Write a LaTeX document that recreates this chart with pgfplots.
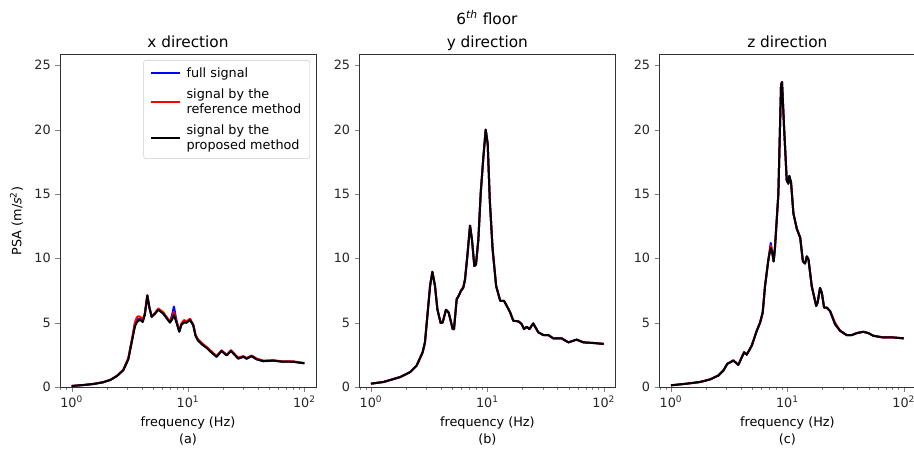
\documentclass[border=0pt]{standalone}
\usepackage{pgfplots}
\pgfplotsset{compat=1.18}
\usepackage{pgfplotstable}
\usepackage{fontspec}
\setmainfont{DejaVu Sans}

\pgfplotstableread{
f full ref prop
1.00 0.08 0.08 0.08
1.25 0.15 0.15 0.15
1.53 0.23 0.24 0.23
1.85 0.36 0.37 0.36
2.14 0.54 0.55 0.54
2.45 0.85 0.87 0.85
2.78 1.32 1.35 1.30
3.07 2.2 2.25 2.15
3.34 3.9 4.0 3.8
3.50 4.94 5.0 4.7
3.62 5.2 5.4 5.0
3.74 5.3 5.5 5.15
3.90 5.3 5.45 5.2
4.08 5.1 5.25 5.05
4.25 5.6 5.7 5.6
4.47 7.1 7.15 7.1
4.65 6.2 6.2 6.2
4.87 5.45 5.5 5.45
5.2 5.7 5.75 5.7
5.56 6.05 6.1 6.0
6.13 5.72 5.8 5.7
6.6 5.35 5.4 5.3
7.0 5.07 5.1 5.0
7.3 5.6 5.4 5.25
7.57 6.25 5.85 5.6
7.9 5.3 5.2 5.1
8.41 4.3 4.35 4.3
8.8 4.9 4.95 4.85
9.23 5.07 5.2 5.0
9.7 5.0 5.1 5.0
10.4 5.25 5.3 5.2
11.1 4.8 4.85 4.8
11.6 4.0 4.05 4.0
12.2 3.65 3.7 3.6
13.2 3.35 3.4 3.3
14.4 3.08 3.12 3.05
15.8 2.75 2.8 2.7
17.6 2.35 2.4 2.35
19.4 2.8 2.85 2.8
21.5 2.48 2.5 2.45
23.4 2.82 2.85 2.8
27 2.23 2.28 2.2
29.9 2.35 2.4 2.35
31.9 2.2 2.25 2.2
35.2 2.4 2.45 2.4
39 2.15 2.2 2.15
44.3 2.02 2.05 2.0
54 2.05 2.08 2.05
63.8 1.98 2.0 1.97
80 1.97 1.99 1.96
100 1.84 1.86 1.84
}\dataA

\pgfplotstableread{
f full ref prop
1.00 0.26 0.26 0.26
1.28 0.39 0.39 0.39
1.78 0.77 0.77 0.77
2.17 1.16 1.16 1.16
2.47 1.67 1.67 1.67
2.78 2.7 2.7 2.7
2.91 3.47 3.47 3.47
3.07 5.79 5.79 5.79
3.22 7.85 7.85 7.85
3.37 8.95 8.95 8.95
3.55 7.85 7.85 7.85
3.72 6.05 6.05 6.05
3.97 4.97 4.97 4.97
4.13 5.02 5.02 5.02
4.41 6.0 6.0 6.0
4.65 5.79 5.79 5.79
5.04 4.5 4.5 4.5
5.17 4.5 4.5 4.5
5.45 6.82 6.82 6.82
5.67 7.08 7.08 7.08
5.93 7.46 7.5 7.46
6.22 7.72 7.8 7.72
6.43 8.37 8.37 8.37
6.73 10.17 10.17 10.17
7.1 12.54 12.54 12.54
7.38 11.45 11.45 11.45
7.73 9.4 9.4 9.4
7.99 9.52 9.52 9.52
8.37 11.45 11.45 11.45
8.77 15.06 15.06 15.06
9.25 17.9 17.9 17.9
9.68 20.0 20.0 20.0
10.07 18.9 18.9 18.9
10.5 14.5 14.5 14.5
11.1 10.7 10.7 10.7
11.9 7.85 7.85 7.85
12.9 6.7 6.7 6.7
13.9 6.7 6.7 6.7
14.7 6.3 6.3 6.3
15.7 5.8 5.8 5.8
16.7 5.15 5.15 5.15
18.5 5.1 5.1 5.1
19.7 4.9 4.9 4.9
20.7 4.5 4.5 4.5
21.8 4.68 4.68 4.68
23 4.5 4.5 4.5
24.8 4.94 4.94 4.94
27.4 4.25 4.25 4.25
30.3 4.04 4.04 4.04
33.4 4.04 4.04 4.04
36.9 3.78 3.78 3.78
43.5 3.78 3.78 3.78
49.7 3.47 3.47 3.47
58.5 3.68 3.68 3.68
66.8 3.47 3.47 3.47
81.5 3.42 3.42 3.42
100 3.35 3.35 3.35
}\dataB

\pgfplotstableread{
f full ref prop
1.00 0.13 0.13 0.13
1.37 0.26 0.26 0.26
1.78 0.39 0.39 0.39
2.17 0.59 0.59 0.59
2.56 0.9 0.9 0.9
2.82 1.28 1.28 1.28
3.05 1.8 1.8 1.8
3.44 2.06 2.06 2.06
3.79 1.72 1.72 1.72
4.25 2.7 2.7 2.7
4.48 2.52 2.52 2.52
4.94 3.21 3.21 3.21
5.46 4.37 4.37 4.37
5.83 5.0 5.0 5.0
6.14 5.78 5.78 5.78
6.43 7.84 7.84 7.84
6.87 9.89 9.89 9.89
7.2 11.2 11.0 10.8
7.44 10.4 10.4 10.4
7.63 9.76 9.76 9.76
7.84 10.9 10.9 10.9
8.37 15.0 15.0 15.0
8.83 23.5 23.5 23.5
9.0 23.7 23.7 23.7
9.37 20.2 20.2 20.2
9.88 16.06 16.06 16.06
10.2 15.8 15.8 15.8
10.4 16.4 16.2 16.4
10.76 15.9 15.9 15.9
11.27 13.5 13.5 13.5
12.05 12.3 12.3 12.3
12.9 11.6 11.6 11.6
13.6 9.76 9.76 9.76
14.2 9.6 9.6 9.6
14.7 10.15 10.15 10.15
15.2 9.9 9.9 9.9
16.2 7.84 7.84 7.84
17.7 6.3 6.3 6.3
18.2 6.55 6.55 6.55
19.1 7.7 7.7 7.7
19.8 7.3 7.3 7.3
20.7 6.17 6.17 6.17
21.8 6.17 6.17 6.17
23.3 5.9 5.9 5.9
25.7 4.88 5.0 4.88
28.4 4.37 4.37 4.37
32.4 4.03 4.03 4.03
35.7 4.03 4.03 4.03
39.5 4.19 4.19 4.19
45 4.29 4.29 4.29
49.7 4.19 4.19 4.19
54.8 3.98 3.98 3.98
66.8 3.85 3.85 3.85
81.5 3.85 3.85 3.85
100 3.78 3.78 3.78
}\dataC

\begin{document}
\begin{tikzpicture}
\useasboundingbox (0,0) rectangle (685.5pt,340.5pt);
\pgfplotsset{every axis/.append style={
    scale only axis, width=192pt, height=249pt,
    anchor=south west,
    xmin=0.7943, xmax=125.89,
    ymin=0, ymax=25.8,
    xtick={1,10,100},
    xticklabels={10\textsuperscript{0},10\textsuperscript{1},10\textsuperscript{2}},
    minor xtick={0.8,0.9,2,3,4,5,6,7,8,9,20,30,40,50,60,70,80,90},
    ytick={0,5,10,15,20,25},
    tick align=outside, tick pos=left,
    major tick length=3.4pt, minor tick length=1.9pt,
    ticklabel style={font=\fontsize{9.6}{11}\selectfont, text=black!85},
    axis line style={line width=0.75pt, black!80},
    title style={font=\fontsize{11.5}{13}\selectfont, at={(axis description cs:0.5,1)}, anchor=base, yshift=-0.4pt},
    xlabel style={font=\fontsize{9.6}{12.7}\selectfont, align=center, at={(axis description cs:0.5,0)}, anchor=north, yshift=-19pt},
  }}

\begin{semilogxaxis}[at={(45pt,50.25pt)},
  /pgf/number format/assume math mode=true,
  title={x direction},
  xlabel={frequency (Hz)\\(a)},
  ylabel={PSA (m/\textit{s}\textsuperscript{2})},
  ylabel style={font=\fontsize{9.6}{11}\selectfont, at={(axis description cs:-0.17,0.5)}, anchor=center},
  legend cell align=left,
  legend style={at={(axis description cs:0.977,0.985)}, anchor=north east,
    draw=black!20, rounded corners=2pt, fill=white,
    font=\fontsize{9.6}{11}\selectfont, cells={align=left},
    row sep=3.2pt, column sep=2.5pt, inner xsep=4.5pt, inner ysep=3.5pt},
  legend image code/.code={\draw[#1] (0pt,0pt) -- (21.75pt,0pt);},
]
\addplot[blue, line width=1.5pt, line join=round] table[x=f, y=full] {\dataA};
\addplot[red, line width=1.5pt, line join=round] table[x=f, y=ref] {\dataA};
\addplot[black, line width=1.5pt, line join=round] table[x=f, y=prop] {\dataA};
\legend{full signal, {signal by the\\reference method}, {signal by the\\proposed method}}
\end{semilogxaxis}

\begin{semilogxaxis}[at={(269.5pt,50.25pt)},
  /pgf/number format/assume math mode=true,
  title={y direction},
  xlabel={frequency (Hz)\\(b)},
]
\addplot[blue, line width=1.5pt, line join=round] table[x=f, y=full] {\dataB};
\addplot[red, line width=1.5pt, line join=round] table[x=f, y=ref] {\dataB};
\addplot[black, line width=1.5pt, line join=round] table[x=f, y=prop] {\dataB};
\end{semilogxaxis}

\begin{semilogxaxis}[at={(494.5pt,50.25pt)},
  /pgf/number format/assume math mode=true,
  title={z direction},
  xlabel={frequency (Hz)\\(c)},
]
\addplot[blue, line width=1.5pt, line join=round] table[x=f, y=full] {\dataC};
\addplot[red, line width=1.5pt, line join=round] table[x=f, y=ref] {\dataC};
\addplot[black, line width=1.5pt, line join=round] table[x=f, y=prop] {\dataC};
\end{semilogxaxis}

\node[font=\fontsize{11.5}{13}\selectfont, anchor=base] at (365.25pt,322.2pt) {6\textsuperscript{\textit{th}} floor};
\end{tikzpicture}
\end{document}
